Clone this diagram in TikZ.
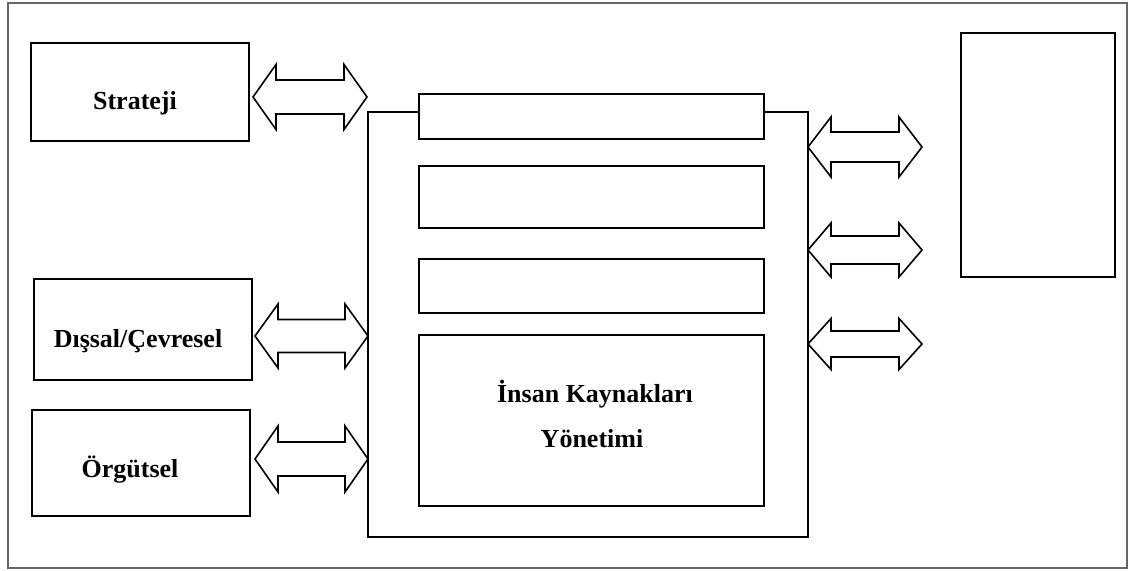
\documentclass[tikz,border=0pt]{standalone}
\usepackage{fontspec}
\setmainfont{Liberation Serif}
\begin{document}
\begin{tikzpicture}[x=1pt,y=-1pt,
  frame/.style={draw=black!60,line width=1.4pt},
  box/.style={draw=black,line width=2.4pt,fill=white},
  slot/.style={draw=black,line width=1.8pt,fill=white},
  lbl/.style={font=\fontsize{26}{30}\selectfont\bfseries,anchor=base,inner sep=0pt},
  blockarrow/.style={draw=black,line width=1.6pt,line join=miter,fill=white}]
% double-headed block arrow: #1 left tip x, #2 right tip x, #3 centre y,
% #4 half shaft height, #5 half head height, #6 head length
\newcommand{\dblarrow}[6]{%
  \draw[blockarrow] (#1,#3) -- ({#1+#6},{#3-#5}) -- ({#1+#6},{#3-#4})
    -- ({#2-#6},{#3-#4}) -- ({#2-#6},{#3-#5}) -- (#2,#3)
    -- ({#2-#6},{#3+#5}) -- ({#2-#6},{#3+#4}) -- ({#1+#6},{#3+#4})
    -- ({#1+#6},{#3+#5}) -- cycle;}
\useasboundingbox (0,0) rectangle (1129,570);
\draw[frame] (8,3) rectangle (1127,568);

% left-hand factor boxes
\draw[box] (31,43) rectangle (249,141) node[pos=.5] (strat) {};
\draw[box] (34,279) rectangle (252,380) node[pos=.5] (dis) {};
\draw[box] (32,410) rectangle (250,516) node[pos=.5] (org) {};
\node[lbl] (stratT) at (135,109) {Strateji};
\node[lbl] (disT) at (138,347) {Dışsal/Çevresel};
\node[lbl] (orgT) at (130,477) {Örgütsel};

% central block with its inner slots
\draw[box] (368,112) rectangle (808,537) node[pos=.5] (main) {};
\draw[slot] (419,94) rectangle (764,139) node[pos=.5] (s1) {};
\draw[slot] (419,166) rectangle (764,228) node[pos=.5] (s2) {};
\draw[slot] (419,259) rectangle (764,313) node[pos=.5] (s3) {};
\draw[slot] (419,335) rectangle (764,506) node[pos=.5] (ik) {};
\node[lbl] (ikT1) at (595,402) {İnsan Kaynakları};
\node[lbl] (ikT2) at (592,447) {Yönetimi};

% right-hand outcome box
\draw[box] (961,33) rectangle (1115,277) node[pos=.5] (out) {};

% block arrows on the left
\dblarrow{253}{367}{97}{17}{32.5}{23}
\dblarrow{255}{368}{336}{16.5}{32}{23}
\dblarrow{255}{368}{459}{17}{33}{23}
% block arrows on the right
\dblarrow{808}{922}{147}{15}{30}{23}
\dblarrow{808}{922}{250}{14}{27}{23}
\dblarrow{808}{922}{344}{13}{25.5}{23}
\end{tikzpicture}
\end{document}
